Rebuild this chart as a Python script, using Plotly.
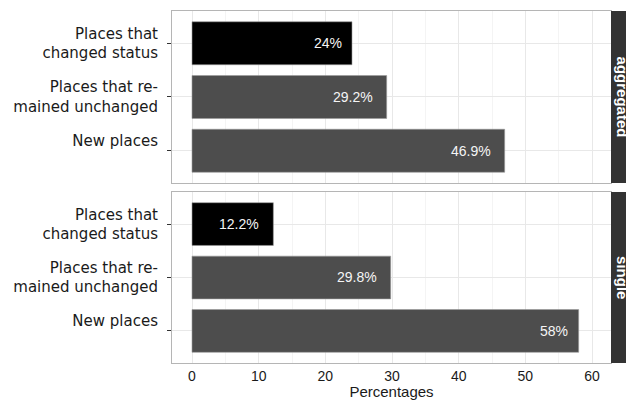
import plotly.graph_objects as go

categories = ["New places", "Places that remained unchanged", "Places that changed status"]
tick_labels = ["New places<br>\u00a0", "Places that re-<br>mained unchanged", "Places that<br>changed status"]
panels = ["aggregated", "single"]
aggregated_values = [46.9, 29.2, 24.0]
single_values = [58.0, 29.8, 12.2]
aggregated_labels = ["46.9%", "29.2%", "24%"]
single_labels = ["58%", "29.8%", "12.2%"]
x_ticks = [0, 10, 20, 30, 40, 50, 60]

bar_colors = ["#4d4d4d", "#4d4d4d", "#000000"]

fig = go.Figure()
series = [(aggregated_values, aggregated_labels, "x", "y"),
          (single_values, single_labels, "x2", "y2")]
for vals, labs, xa, ya in series:
    fig.add_trace(go.Bar(
        x=vals, y=categories, orientation="h", width=0.8,
        marker=dict(color=bar_colors, line=dict(color="#9a9a9a", width=0.6)),
        xaxis=xa, yaxis=ya, showlegend=False, hoverinfo="skip"))
    for v, c, l in zip(vals, categories, labs):
        fig.add_annotation(x=v, y=c, xref=xa, yref=ya, text=l, showarrow=False,
                           xanchor="right", xshift=-(3 + 1.8 * len(l)),
                           font=dict(family="Liberation Sans, Arial", size=14, color="#f5f5f5"))

common_x = dict(range=[-3, 62.85], tickvals=x_ticks, showgrid=True, gridcolor="#e8e8e8",
                minor=dict(dtick=5, showgrid=True, gridcolor="#f4f4f4"),
                zeroline=False, showline=True, mirror=True, linecolor="#b5b5b5", linewidth=1,
                automargin=False,
                tickfont=dict(family="Liberation Sans, Arial", size=14, color="#1a1a1a"))
common_y = dict(type="category", categoryorder="array", categoryarray=categories,
                tickvals=categories, ticktext=tick_labels,
                range=[-0.6, 2.6], showgrid=True, gridcolor="#e8e8e8", zeroline=False,
                showline=True, mirror=True, linecolor="#b5b5b5", linewidth=1,
                ticks="outside", ticklen=4, tickcolor="#333333", tickwidth=1,
                ticklabelstandoff=6, automargin=False,
                tickfont=dict(family="DejaVu Sans", size=15, color="#1a1a1a"))

# the page body adds an 8px offset, so the figure is sized 626x392
fig.update_layout(
    width=626, height=392,
    margin=dict(l=164, r=23, t=3, b=37, autoexpand=False),
    paper_bgcolor="white", plot_bgcolor="white",
    xaxis=dict(**common_x, anchor="y", showticklabels=False),
    yaxis=dict(**common_y, domain=[0.5114, 1.0], anchor="x"),
    xaxis2=dict(**common_x, anchor="y2", matches="x",
                title=dict(text="Percentages", standoff=5,
                           font=dict(family="Liberation Sans, Arial", size=15, color="#1a1a1a"))),
    yaxis2=dict(**common_y, domain=[0.0, 0.4858], anchor="x2"),
)

strip_doms = [(0.5114, 1.0), (0.0, 0.4858)]
for name, (d0, d1) in zip(panels, strip_doms):
    fig.add_shape(type="rect", xref="paper", yref="paper", x0=1.0, x1=1.06, y0=d0, y1=d1,
                  fillcolor="#333333", line=dict(width=0), layer="above")
    fig.add_annotation(xref="paper", yref="paper", x=1.026, y=(d0 + d1) / 2, text="<b>%s</b>" % name,
                       textangle=90, showarrow=False, xanchor="center", yanchor="middle",
                       font=dict(family="Liberation Sans, Arial", size=15, color="white"))

fig.write_html("out.html")
